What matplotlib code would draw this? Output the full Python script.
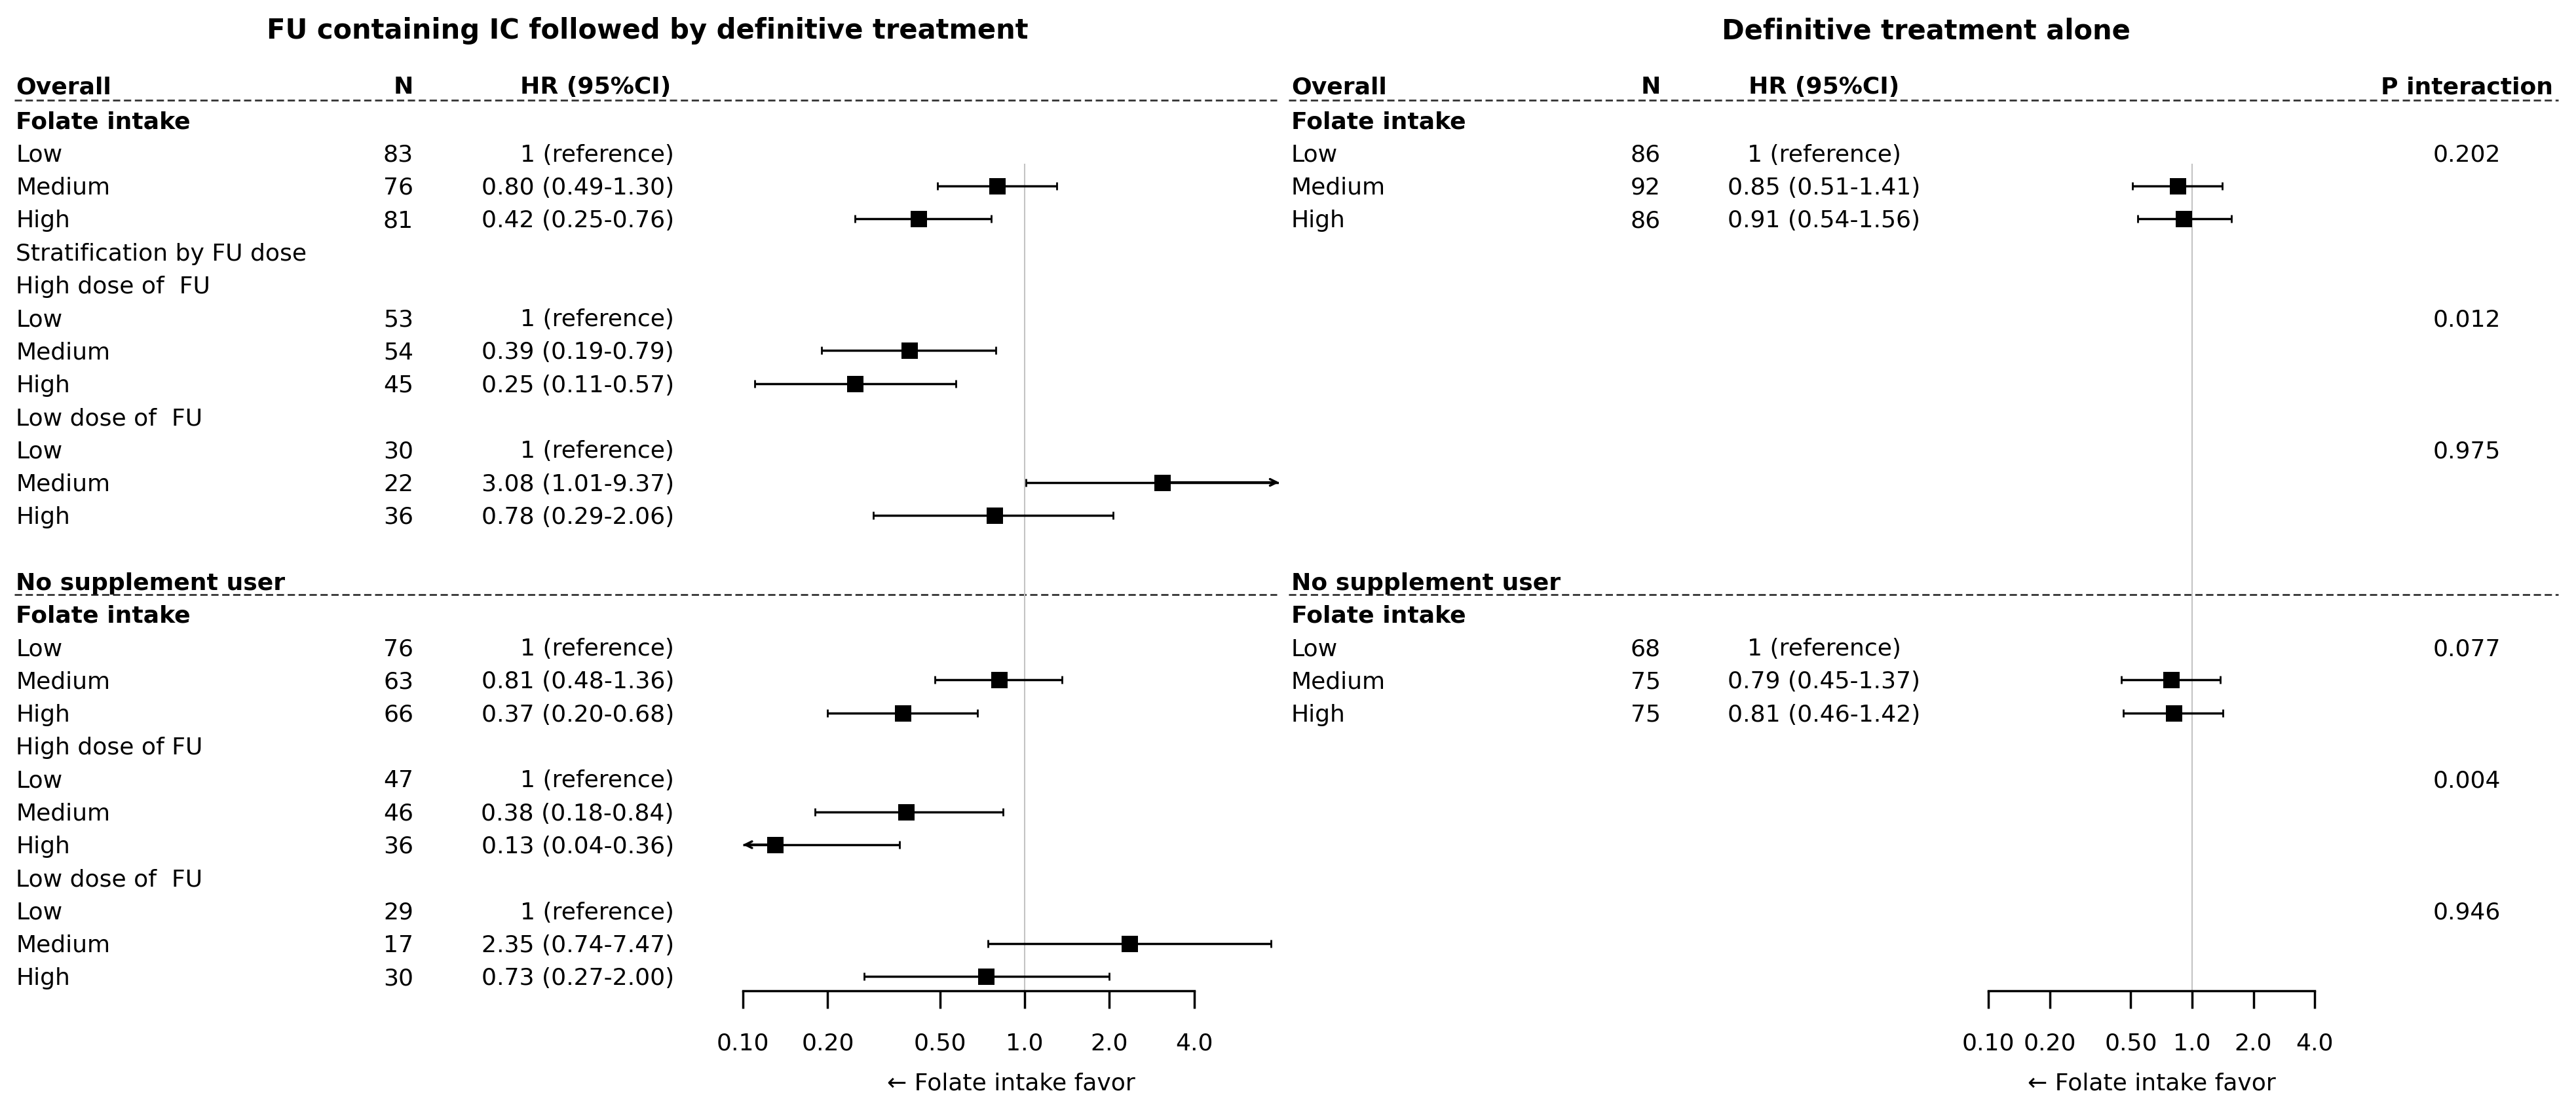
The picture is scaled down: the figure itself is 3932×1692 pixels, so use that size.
import numpy as np
import matplotlib.pyplot as plt

nan = np.nan

# ---- data ----
left_title = "FU containing IC followed by definitive treatment"
right_title = "Definitive treatment alone"
header = ["Overall", "N", "HR (95%CI)", "P interaction"]

left_labels = ["Folate intake", "Low", "Medium", "High", "Stratification by FU dose",
               "High dose of  FU", "Low", "Medium", "High",
               "Low dose of  FU", "Low", "Medium", "High", "",
               "No supplement user", "Folate intake", "Low", "Medium", "High",
               "High dose of FU", "Low", "Medium", "High",
               "Low dose of  FU", "Low", "Medium", "High"]
left_n = ["", "83", "76", "81", "", "", "53", "54", "45", "", "30", "22", "36", "",
          "", "", "76", "63", "66", "", "47", "46", "36", "", "29", "17", "30"]
left_hr = [nan, 1, 0.80, 0.42, nan, nan, 1, 0.39, 0.25, nan, 1, 3.08, 0.78, nan,
           nan, nan, 1, 0.81, 0.37, nan, 1, 0.38, 0.13, nan, 1, 2.35, 0.73]
left_lo = [nan, nan, 0.49, 0.25, nan, nan, nan, 0.19, 0.11, nan, nan, 1.01, 0.29, nan,
           nan, nan, nan, 0.48, 0.20, nan, nan, 0.18, 0.04, nan, nan, 0.74, 0.27]
left_hi = [nan, nan, 1.30, 0.76, nan, nan, nan, 0.79, 0.57, nan, nan, 9.37, 2.06, nan,
           nan, nan, nan, 1.36, 0.68, nan, nan, 0.84, 0.36, nan, nan, 7.47, 2.00]

right_labels = ["Folate intake", "Low", "Medium", "High"] + [""] * 10 + \
               ["No supplement user", "Folate intake", "Low", "Medium", "High"] + [""] * 8
right_n = ["", "86", "92", "86"] + [""] * 12 + ["68", "75", "75"] + [""] * 8
right_hr = [nan, 1, 0.85, 0.91] + [nan] * 12 + [1, 0.79, 0.81] + [nan] * 8
right_lo = [nan, nan, 0.51, 0.54] + [nan] * 12 + [nan, 0.45, 0.46] + [nan] * 8
right_hi = [nan, nan, 1.41, 1.56] + [nan] * 12 + [nan, 1.37, 1.42] + [nan] * 8
p_interaction = ["", "0.202", "", "", "", "", "0.012", "", "", "", "0.975", "", "", "",
                 "", "", "0.077", "", "", "", "0.004", "", "", "", "0.946", "", ""]

ticks = [0.1, 0.2, 0.5, 1, 2, 4]
tick_labels = ["0.10", "0.20", "0.50", "1.0", "2.0", "4.0"]
bold_labels = {"Folate intake", "No supplement user"}

# ---- layout (pixels) ----
W, H = 3932, 1692
ROW0, ROWH = 133, 50.3
r_top = -ROW0 / ROWH
r_bot = (H - ROW0) / ROWH
FS = 26

plt.rcParams['font.family'] = ['DejaVu Sans']
fig = plt.figure(figsize=(W / 100, H / 100), dpi=100)

tab = fig.add_axes([0, 0, 1, 1])
tab.set_xlim(0, W)
tab.set_ylim(r_bot, r_top)
tab.axis("off")


def hr_text(h, l, u):
    if np.isnan(h):
        return ""
    if np.isnan(l):
        return "1 (reference)"
    return f"{h:.2f} ({l:.2f}-{u:.2f})"


def table(labels, n, hr, lo, hi, x_lab, x_n, x_hr, hr_ha, x_dash):
    tab.text(x_lab, 0.2, header[0], fontsize=FS, fontweight="bold", va="baseline")
    tab.text(x_n, 0.2, header[1], fontsize=FS, fontweight="bold", va="baseline", ha="right")
    tab.text(x_hr[1], 0.2, header[2], fontsize=FS, fontweight="bold", va="baseline", ha=hr_ha)
    tab.plot(x_dash, [0.4, 0.4], color="#333333", lw=2, ls=(0, (4, 2)))
    for i, lab in enumerate(labels):
        r = i + 1
        fw = "bold" if lab in bold_labels else "normal"
        tab.text(x_lab, r + 0.26, lab, fontsize=FS, fontweight=fw, va="baseline")
        tab.text(x_n, r + 0.26, n[i], fontsize=FS, va="baseline", ha="right")
        tab.text(x_hr[0], r + 0.26, hr_text(hr[i], lo[i], hi[i]), fontsize=FS,
                 va="baseline", ha=hr_ha)
        if lab == "No supplement user":
            tab.plot(x_dash, [r + 0.4, r + 0.4], color="#333333", lw=2, ls=(0, (4, 2)))


def forest(pos, hr, lo, hi, xmax):
    ax = fig.add_axes(pos)
    ax.set_xscale("log")
    ax.set_xlim(0.1, xmax)
    ax.set_ylim(r_bot, r_top)
    ax.patch.set_alpha(0)
    for s in ["top", "left", "right"]:
        ax.spines[s].set_visible(False)
    r_axis = (1513 - ROW0) / ROWH
    ax.spines["bottom"].set_position(("data", r_axis))
    ax.spines["bottom"].set_bounds(0.1, 4)
    ax.spines["bottom"].set_linewidth(2.5)
    ax.set_yticks([])
    ax.set_xticks(ticks)
    ax.set_xticklabels(tick_labels)
    ax.minorticks_off()
    ax.tick_params(axis="x", direction="out", length=19.5, width=2.5, labelsize=FS, pad=26)
    ax.vlines(1, (250 - ROW0) / ROWH, r_axis, color="#c4c4c4", lw=1.5, zorder=1)
    for i in range(len(hr)):
        r = i + 1
        if np.isnan(lo[i]):
            continue
        lc = max(lo[i], 0.1)
        uc = min(hi[i], xmax)
        ax.hlines(r, lc, uc, color="k", lw=2.5, zorder=2)
        if lo[i] < 0.1:
            ax.annotate("", xy=(0.1, r), xytext=(hr[i], r),
                        arrowprops=dict(arrowstyle="->", lw=2.5, color="k",
                                        shrinkA=0, shrinkB=0, mutation_scale=18))
        else:
            ax.plot(lc, r, marker="|", ms=9, mew=2, color="k")
        if hi[i] > xmax:
            ax.annotate("", xy=(xmax, r), xytext=(hr[i], r),
                        arrowprops=dict(arrowstyle="->", lw=2.5, color="k",
                                        shrinkA=0, shrinkB=0, mutation_scale=18))
        else:
            ax.plot(uc, r, marker="|", ms=9, mew=2, color="k")
        ax.plot(hr[i], r, marker="s", ms=18, color="k", mew=0, zorder=3)
    ax.set_xlabel("\u2190 Folate intake favor", fontsize=FS, labelpad=20)
    return ax


# titles
tab.text(988, (47 - ROW0) / ROWH, left_title, fontsize=30, fontweight="bold",
         ha="center", va="center")
tab.text(2940, (47 - ROW0) / ROWH, right_title, fontsize=30, fontweight="bold",
         ha="center", va="center")

# left panel
table(left_labels, left_n, left_hr, left_lo, left_hi, 24, 631, (1029, 1024), "right", [22, 1949])
x_hi = 1564 + 430 * np.log10(8)
forest([1134 / W, 0, (x_hi - 1134) / W, 1], left_hr, left_lo, left_hi, 8)

# right panel
table(right_labels, right_n, right_hr, right_lo, right_hi, 1971, 2535, (2784, 2784), "center",
      [1967, 3905])
tab.text(3765, 0.2, header[3], fontsize=FS, fontweight="bold", va="baseline", ha="center")
for i, p in enumerate(p_interaction):
    tab.text(3765, i + 1 + 0.26, p, fontsize=FS, va="baseline", ha="center")
x_hi = 3346 + 311 * np.log10(4)
forest([3035 / W, 0, (x_hi - 3035) / W, 1], right_hr, right_lo, right_hi, 4)

fig.savefig("out.png", dpi=100)
